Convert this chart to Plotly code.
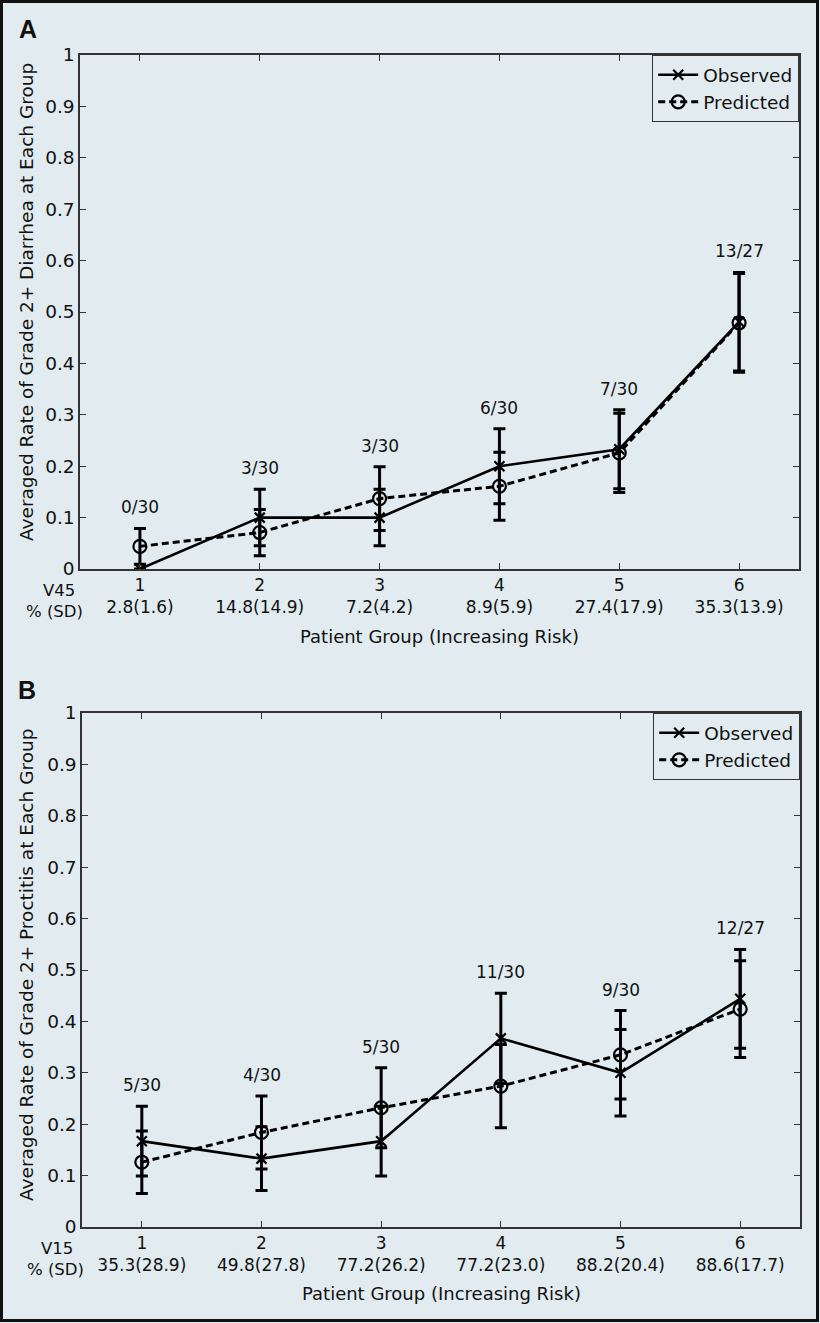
import plotly.graph_objects as go

W, H = 820, 1323
BG = "#e2ecf0"
FONT = "DejaVu Sans"

groups = [1, 2, 3, 4, 5, 6]

# Panel A: diarrhea
counts_a = ["0/30", "3/30", "3/30", "6/30", "7/30", "13/27"]
v_a = ["2.8(1.6)", "14.8(14.9)", "7.2(4.2)", "8.9(5.9)", "27.4(17.9)", "35.3(13.9)"]
obs_a = [0.0, 0.100, 0.100, 0.200, 0.233, 0.481]
obs_err_a = [0.0, 0.055, 0.055, 0.073, 0.077, 0.096]
pred_a = [0.044, 0.071, 0.137, 0.161, 0.226, 0.479]
pred_err_a = [0.035, 0.045, 0.062, 0.066, 0.077, 0.096]

# Panel B: proctitis
counts_b = ["5/30", "4/30", "5/30", "11/30", "9/30", "12/27"]
v_b = ["35.3(28.9)", "49.8(27.8)", "77.2(26.2)", "77.2(23.0)", "88.2(20.4)", "88.6(17.7)"]
obs_b = [0.167, 0.133, 0.167, 0.367, 0.300, 0.444]
obs_err_b = [0.068, 0.062, 0.068, 0.088, 0.084, 0.096]
pred_b = [0.126, 0.184, 0.232, 0.274, 0.335, 0.424]
pred_err_b = [0.061, 0.071, 0.078, 0.081, 0.086, 0.094]


def px(x):
    return x / W


def py(y):
    return 1 - y / H


fig = go.Figure()


def add_panel(xa, ya, obs, obs_err, pred, pred_err, legend):
    fig.add_trace(go.Scatter(
        x=groups, y=obs, xaxis=xa, yaxis=ya, name="Observed", legend=legend,
        mode="lines+markers",
        line=dict(color="black", width=2.6),
        marker=dict(symbol="x-thin-open", size=10, color="black", line=dict(width=2.2, color="black")),
        error_y=dict(type="data", array=obs_err, visible=True, color="black", thickness=3, width=6),
    ))
    fig.add_trace(go.Scatter(
        x=groups, y=pred, xaxis=xa, yaxis=ya, name="Predicted", legend=legend,
        mode="lines+markers",
        line=dict(color="black", width=3, dash="7px,4px"),
        marker=dict(symbol="circle-open", size=13, color="black", line=dict(width=2.2, color="black")),
        error_y=dict(type="data", array=pred_err, visible=True, color="black", thickness=3, width=6),
    ))


add_panel("x", "y", obs_a, obs_err_a, pred_a, pred_err_a, "legend")
add_panel("x2", "y2", obs_b, obs_err_b, pred_b, pred_err_b, "legend2")

axis_common = dict(
    showgrid=False, zeroline=False, showline=True, linecolor="#333", linewidth=1.5,
    mirror="ticks", ticks="inside", ticklen=6, tickcolor="#333", tickwidth=1.3,
    automargin=False,
)
xa_common = dict(axis_common, range=[0.5, 6.5], tickvals=groups,
                 tickfont=dict(family=FONT, size=17, color="#111"))
ya_common = dict(axis_common, range=[0, 1], tickvals=[i / 10 for i in range(11)],
                 ticktext=["0"] + ["0.%d" % i for i in range(1, 10)] + ["1"],
                 tickfont=dict(family=FONT, size=18.5, color="#111"))

legend_common = dict(xanchor="right", yanchor="top", bgcolor=BG, bordercolor="#333", borderwidth=1.2,
                     font=dict(family=FONT, size=18.5, color="#111"), tracegroupgap=0, itemwidth=40)

fig.update_layout(
    width=W, height=H, autosize=False, paper_bgcolor=BG, plot_bgcolor=BG,
    margin=dict(l=0, r=0, t=0, b=0, pad=0, autoexpand=False), showlegend=True,
    xaxis=dict(xa_common, domain=[px(80), px(799)], anchor="y",
               ticktext=["%d<br>%s" % (g, v) for g, v in zip(groups, v_a)]),
    yaxis=dict(ya_common, domain=[py(569), py(55)], anchor="x"),
    xaxis2=dict(xa_common, domain=[px(82), px(800)], anchor="y2",
                ticktext=["%d<br>%s" % (g, v) for g, v in zip(groups, v_b)]),
    yaxis2=dict(ya_common, domain=[py(1227), py(713)], anchor="x2"),
    legend=dict(legend_common, x=px(799), y=py(55)),
    legend2=dict(legend_common, x=px(800), y=py(713)),
)

ann = []


def count_labels(xr, yr, counts, obs, obs_err, pred, pred_err):
    for g, c, o, oe, p, pe in zip(groups, counts, obs, obs_err, pred, pred_err):
        top = max(o + oe, p + pe)
        ann.append(dict(x=g, y=top, xref=xr, yref=yr, text=c, showarrow=False,
                        yanchor="middle", yshift=21,
                        font=dict(family=FONT, size=17, color="#111")))


count_labels("x", "y", counts_a, obs_a, obs_err_a, pred_a, pred_err_a)
count_labels("x2", "y2", counts_b, obs_b, obs_err_b, pred_b, pred_err_b)


def text(x, y, t, size, angle=0, bold=False, family=FONT, yanchor="middle"):
    ann.append(dict(x=px(x), y=py(y), xref="paper", yref="paper", text=("<b>%s</b>" % t) if bold else t,
                    showarrow=False, textangle=angle, xanchor="center", yanchor=yanchor, borderpad=0,
                    font=dict(family=family, size=size, color="#111")))


text(28, 29, "A", 25, bold=True, family="Liberation Sans")
text(27, 690, "B", 25, bold=True, family="Liberation Sans")
text(26, 302, "Averaged Rate of Grade 2+ Diarrhea at Each Group", 18.5, angle=-90)
text(26, 965, "Averaged Rate of Grade 2+ Proctitis at Each Group", 18.5, angle=-90)
text(439, 637, "Patient Group (Increasing Risk)", 18)
text(441, 1293, "Patient Group (Increasing Risk)", 18)
text(59, 601, "V45", 16.5, yanchor="bottom")
text(54, 601, "% (SD)", 16.5, yanchor="top")
text(57, 1259, "V15", 16.5, yanchor="bottom")
text(55, 1259, "% (SD)", 16.5, yanchor="top")

fig.update_layout(annotations=ann)

fig.add_shape(type="rect", xref="paper", yref="paper", x0=px(1.5), x1=px(817.5),
              y0=py(1320.5), y1=py(1.5), line=dict(color="#111", width=3))

fig.write_html(
    "out.html",
    config={"responsive": False, "displayModeBar": False},
    post_script="document.body.style.margin='0';document.body.style.padding='0';"
                "document.documentElement.style.overflow='hidden';",
)
